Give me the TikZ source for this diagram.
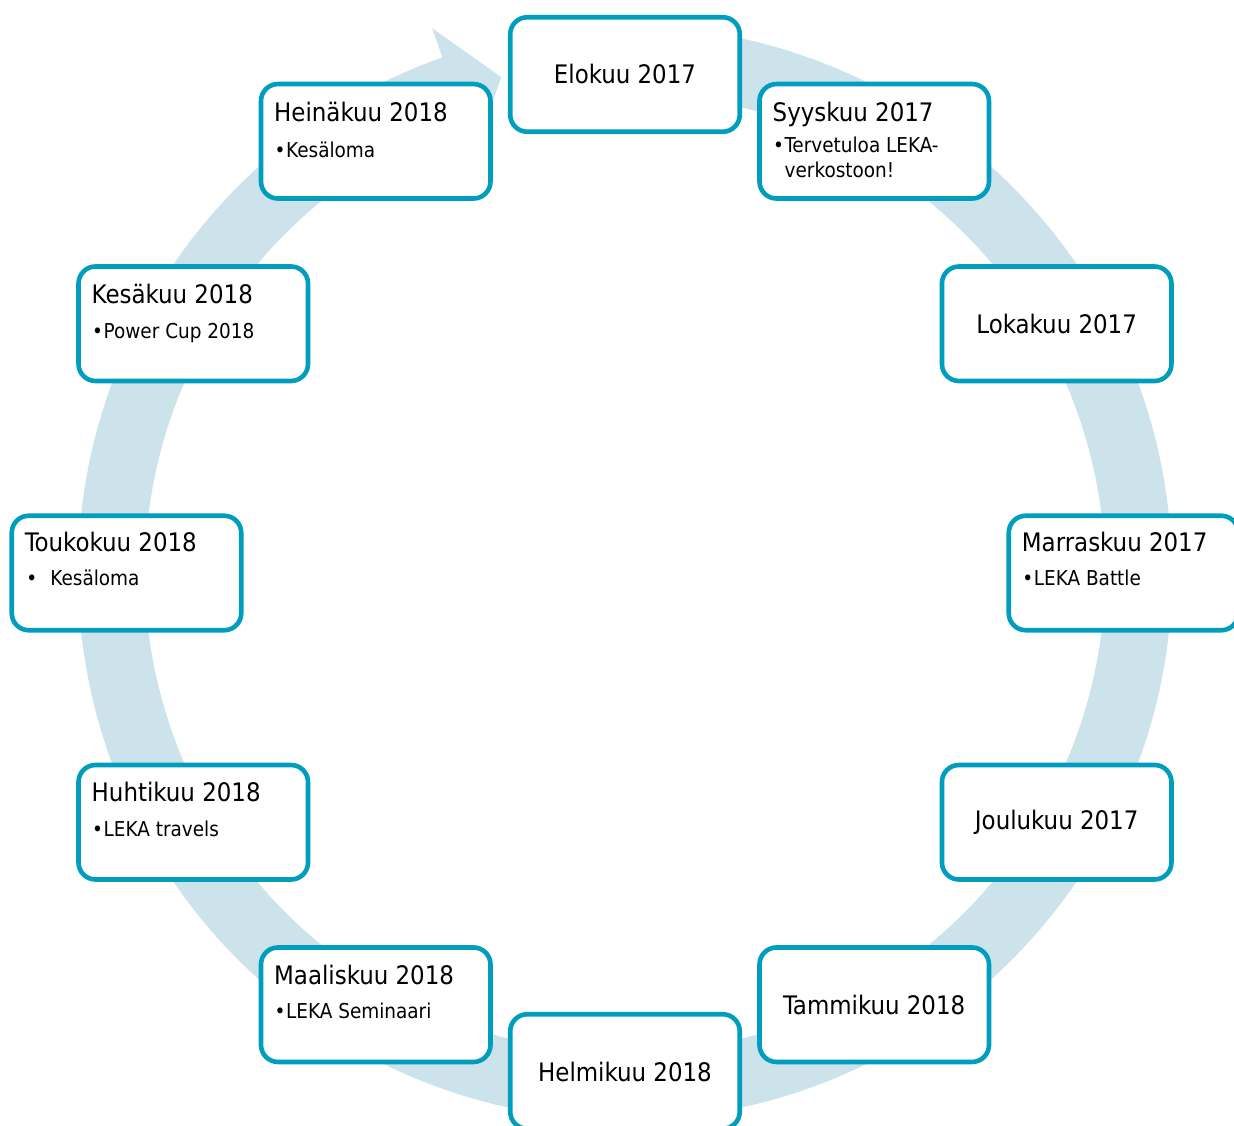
\documentclass[tikz,border=0pt]{standalone}
\usepackage{fontspec}
\setmainfont{DejaVu Sans Condensed}
\definecolor{ringblue}{RGB}{204,227,235}
\definecolor{boxteal}{RGB}{0,157,190}
\begin{document}
\begin{tikzpicture}[x=1pt,y=1pt,
  month/.style={draw=boxteal, line width=4.6pt, rounded corners=17pt, fill=white,
    minimum width=229.5pt, minimum height=114.5pt, inner sep=0pt, outer sep=0pt},
  ctitle/.style={font=\fontsize{25.5}{30}\selectfont, inner sep=0pt},
  ttl/.style={anchor=base west, font=\fontsize{25.5}{30}\selectfont, inner sep=0pt},
  itm/.style={anchor=base west, font=\fontsize{20.5}{25}\selectfont, inner sep=0pt}]
\useasboundingbox (-625,-553) rectangle (609,573);

% circular arrow behind the boxes (clockwise)
\fill[ringblue] (96:547) arc[start angle=96, end angle=-250.5, radius=547]
  -- (109.5:578) -- (104:511) -- (109.5:449) -- (109.5:480)
  arc[start angle=109.5, end angle=456, radius=480] -- cycle;

\newcommand{\bul}{\makebox[11.5pt][l]{•}}

% months
\node[month] (elo) at (90:498.5) {};
\node[ctitle] (elo-t) at (elo) {Elokuu 2017};

\node[month] (syys) at (60:498.5) {};
\node[ttl] (syys-t) at ([xshift=13,yshift=-37]syys.north west) {Syyskuu 2017};
\node[itm] (syys-i) at ([xshift=13.5,yshift=-68]syys.north west) {\bul Tervetuloa LEKA-};
\node[itm] (syys-j) at ([xshift=25,yshift=-93.5]syys.north west) {verkostoon!};

\node[month] (loka) at (30:498.5) {};
\node[ctitle] (loka-t) at (loka) {Lokakuu 2017};

\node[month] (marras) at (0:498.5) {};
\node[ttl] (marras-t) at ([xshift=13,yshift=-36]marras.north west) {Marraskuu 2017};
\node[itm] (marras-i) at ([xshift=13.5,yshift=-70]marras.north west) {\bul LEKA Battle};

\node[month] (joulu) at (-30:498.5) {};
\node[ctitle] (joulu-t) at (joulu) {Joulukuu 2017};

\node[month] (tammi) at (-60:498.5) {};
\node[ctitle] (tammi-t) at (tammi) {Tammikuu 2018};

\node[month] (helmi) at (-90:498.5) {};
\node[ctitle] (helmi-t) at (helmi) {Helmikuu 2018};

\node[month] (maalis) at (-120:498.5) {};
\node[ttl] (maalis-t) at ([xshift=13,yshift=-37]maalis.north west) {Maaliskuu 2018};
\node[itm] (maalis-i) at ([xshift=13.5,yshift=-71]maalis.north west) {\bul LEKA Seminaari};

\node[month] (huhti) at (-150:498.5) {};
\node[ttl] (huhti-t) at ([xshift=13,yshift=-37]huhti.north west) {Huhtikuu 2018};
\node[itm] (huhti-i) at ([xshift=13.5,yshift=-71]huhti.north west) {\bul LEKA travels};

\node[month] (touko) at (180:498.5) {};
\node[ttl] (touko-t) at ([xshift=13,yshift=-36]touko.north west) {Toukokuu 2018};
\node[itm] (touko-i) at ([xshift=14.5,yshift=-70]touko.north west) {\makebox[24pt][l]{•}Kesäloma};

\node[month] (kesa) at (150:498.5) {};
\node[ttl] (kesa-t) at ([xshift=13,yshift=-37]kesa.north west) {Kesäkuu 2018};
\node[itm] (kesa-i) at ([xshift=13.5,yshift=-72]kesa.north west) {\bul Power Cup 2018};

\node[month] (heina) at (120:498.5) {};
\node[ttl] (heina-t) at ([xshift=13,yshift=-37]heina.north west) {Heinäkuu 2018};
\node[itm] (heina-i) at ([xshift=13.5,yshift=-73]heina.north west) {\bul Kesäloma};
\end{tikzpicture}
\end{document}
